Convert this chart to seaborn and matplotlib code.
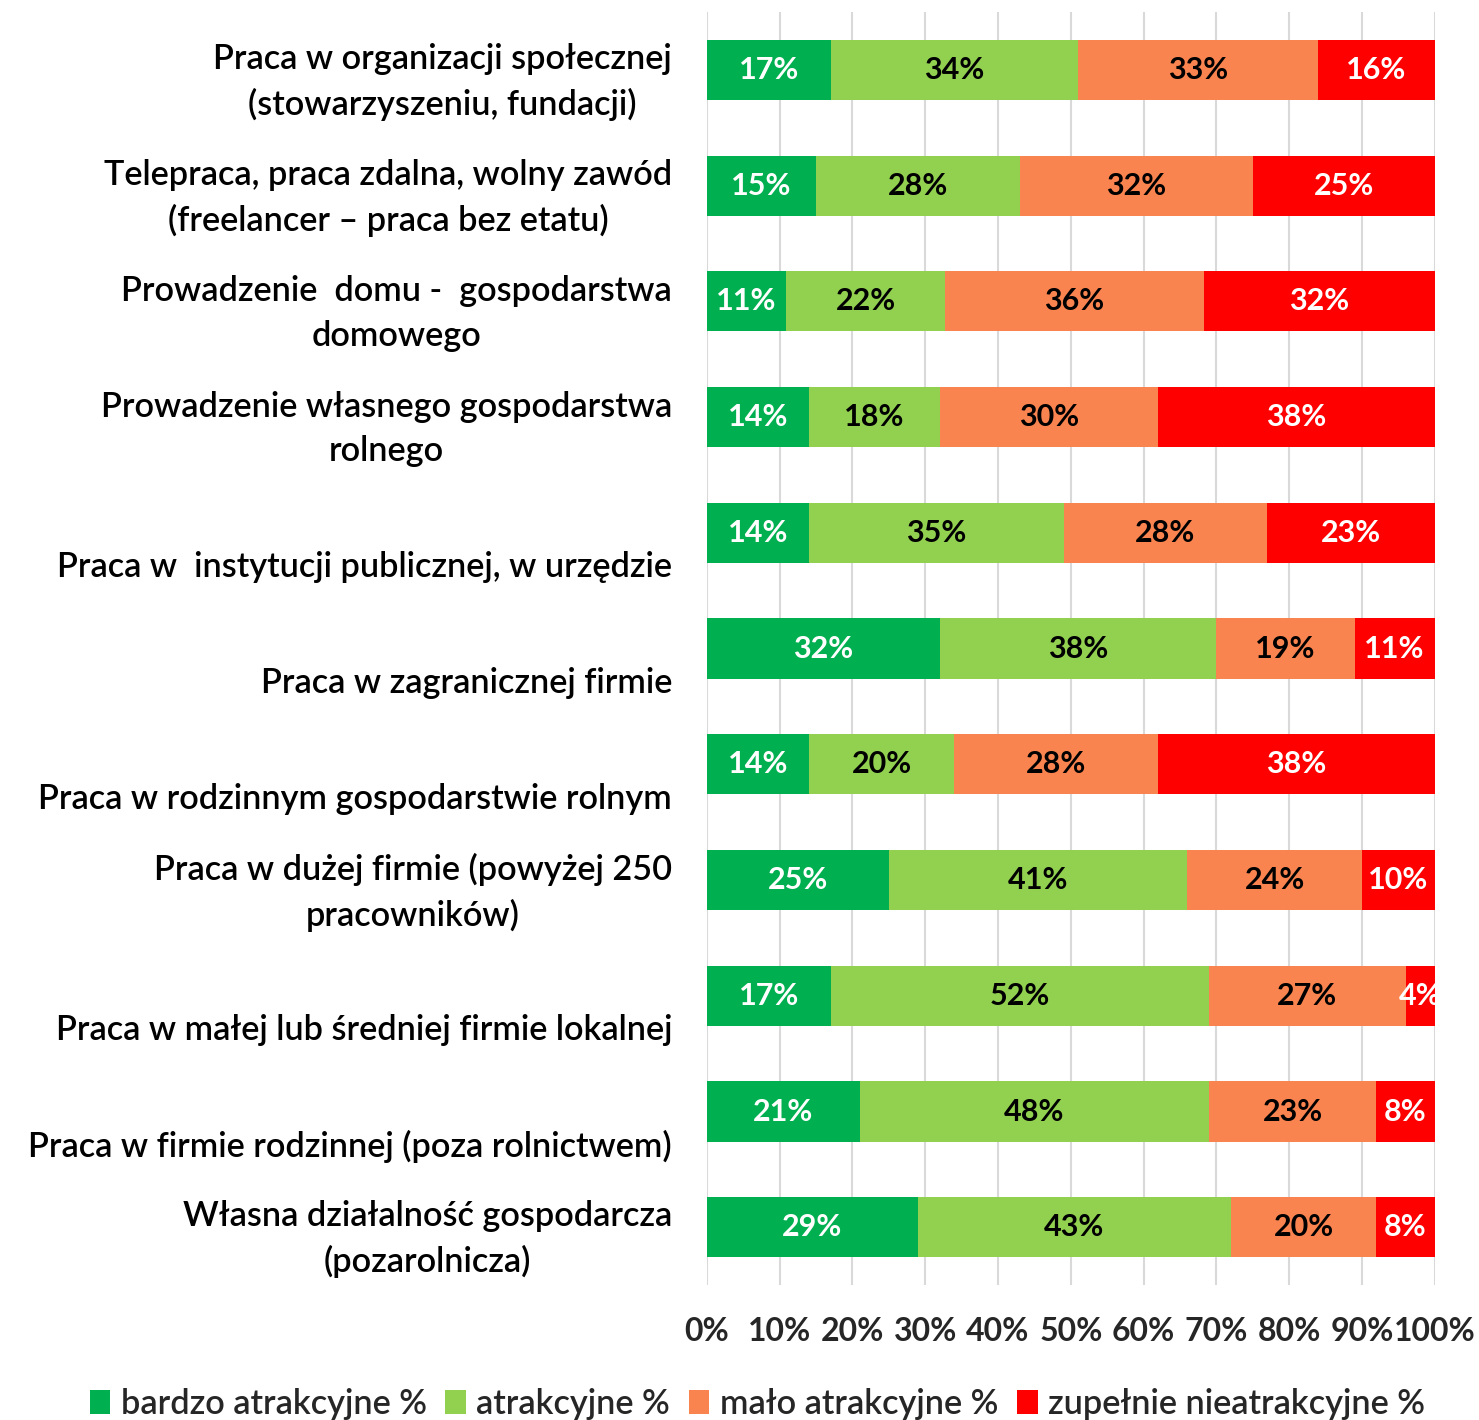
import numpy as np
import pandas as pd
import matplotlib
matplotlib.use("Agg")
import matplotlib.pyplot as plt
from matplotlib.patches import Patch
from matplotlib.ticker import PercentFormatter
import seaborn as sns

CATEGORIES = [
    "Praca w organizacji społecznej\n(stowarzyszeniu, fundacji)",
    "Telepraca, praca zdalna, wolny zawód\n(freelancer – praca bez etatu)",
    "Prowadzenie  domu -  gospodarstwa\ndomowego",
    "Prowadzenie własnego gospodarstwa\nrolnego",
    "Praca w  instytucji publicznej, w urzędzie",
    "Praca w zagranicznej firmie",
    "Praca w rodzinnym gospodarstwie rolnym",
    "Praca w dużej firmie (powyżej 250\npracowników)",
    "Praca w małej lub średniej firmie lokalnej",
    "Praca w firmie rodzinnej (poza rolnictwem)",
    "Własna działalność gospodarcza\n(pozarolnicza)",
]
BARDZO = [17, 15, 11, 14, 14, 32, 14, 25, 17, 21, 29]
ATRAKCYJNE = [34, 28, 22, 18, 35, 38, 20, 41, 52, 48, 43]
MALO = [33, 32, 36, 30, 28, 19, 28, 24, 27, 23, 20]
ZUPELNIE = [16, 25, 32, 38, 23, 11, 38, 10, 4, 8, 8]

SERIES = ["bardzo atrakcyjne %", "atrakcyjne %", "mało atrakcyjne %", "zupełnie nieatrakcyjne %"]
COLORS = ["#00B050", "#92D050", "#FA8450", "#FF0000"]
TEXT_COLORS = ["white", "black", "black", "white"]

FONT = ["Lato", "DejaVu Sans"]


def main():
    sns.set_theme(style="white")
    plt.rcParams["font.family"] = FONT

    raw = np.array([BARDZO, ATRAKCYJNE, MALO, ZUPELNIE], dtype=float)
    shares = raw / raw.sum(axis=0) * 100  # 100% stacked, like Excel
    cum = np.cumsum(shares, axis=0)

    fig = plt.figure(figsize=(14.79, 14.2), dpi=100)
    ax = fig.add_axes([0.478, 0.095, 0.492, 0.8965])

    # layered bars: longest first, shorter cumulative sums painted over
    for k in range(3, -1, -1):
        df = pd.DataFrame({"kat": CATEGORIES, "val": cum[k]})
        sns.barplot(data=df, x="val", y="kat", orient="h", color=COLORS[k],
                    saturation=1, width=0.52, ax=ax, zorder=3, linewidth=0)

    for i in range(len(CATEGORIES)):
        for k in range(4):
            mid = cum[k, i] - shares[k, i] / 2
            ax.text(mid, i, f"{int(raw[k, i])}%", ha="center", va="center",
                    color=TEXT_COLORS[k], fontsize=22, fontweight="bold",
                    zorder=5, clip_on=True)

    ax.set_xlim(0, 100)
    ax.set_ylim(len(CATEGORIES) - 0.5, -0.5)
    ax.set_xticks(np.arange(0, 101, 10))
    ax.xaxis.set_major_formatter(PercentFormatter(decimals=0))
    ax.tick_params(axis="x", length=0, pad=23, labelsize=23)
    for t in ax.get_xticklabels():
        t.set_fontweight("bold")
    ax.grid(axis="x", color="#D9D9D9", linewidth=1.5, zorder=0)
    ax.set_axisbelow(True)
    for s in ax.spines.values():
        s.set_visible(False)
    ax.set_xlabel("")
    ax.set_ylabel("")

    # category labels, Excel-style: block sits slightly below bar centre
    ax.set_yticks(range(len(CATEGORIES)))
    ax.set_yticklabels([])
    ax.tick_params(axis="y", length=0)
    trans = matplotlib.transforms.blended_transform_factory(ax.transAxes, ax.transData)
    for i, lab in enumerate(CATEGORIES):
        txt = lab if "\n" in lab else "\n" + lab
        ax.text(-0.048, i + 0.105, txt, transform=trans, ha="right", va="center",
                multialignment="center", fontsize=24.7, fontweight="semibold",
                linespacing=1.47, color="black")

    handles = [Patch(facecolor=c, edgecolor="none") for c in COLORS]
    leg = fig.legend(handles, SERIES, loc="center", bbox_to_anchor=(0.512, 0.011),
                     ncol=4, frameon=False, fontsize=24.7, handlelength=0.6,
                     handleheight=0.7, handletextpad=0.3, columnspacing=0.55)
    for t in leg.get_texts():
        t.set_fontweight("semibold")

    fig.savefig("out.png", dpi=100)


if __name__ == "__main__":
    main()
